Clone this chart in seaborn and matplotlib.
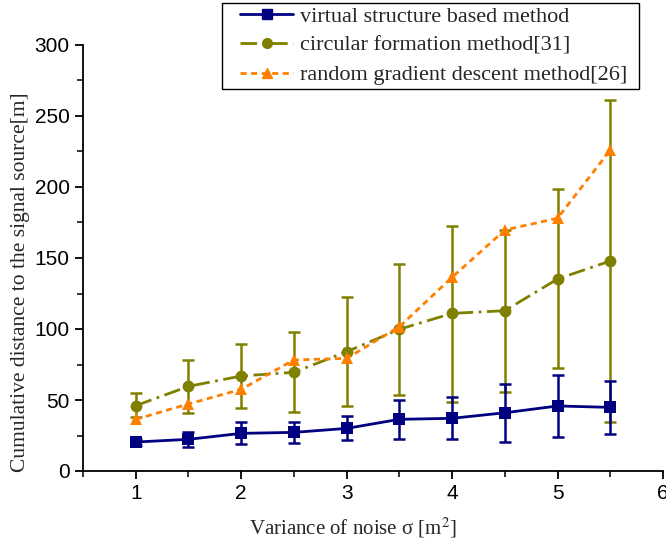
import numpy as np
import pandas as pd
import matplotlib
matplotlib.use("Agg")
import matplotlib.pyplot as plt
import seaborn as sns
from matplotlib.ticker import MultipleLocator
from matplotlib.lines import Line2D
from matplotlib.patches import Rectangle

x_vals = [1, 1.5, 2, 2.5, 3, 3.5, 4, 4.5, 5, 5.5]

vs_mean = [20.4, 22.3, 26.5, 27.2, 30.0, 36.4, 37.1, 41.0, 45.8, 44.8]
vs_low = [18.5, 17.1, 19.2, 20.0, 21.6, 22.8, 22.3, 20.7, 23.7, 26.0]
vs_high = [22.5, 27.2, 34.3, 34.7, 38.7, 50.0, 52.3, 61.3, 67.6, 63.6]

cf_mean = [46.0, 59.6, 66.9, 69.5, 84.0, 99.8, 111.0, 112.9, 135.2, 147.9]
cf_low = [37.8, 40.6, 44.1, 41.3, 45.8, 53.5, 48.8, 55.4, 72.3, 34.7]
cf_high = [54.7, 78.4, 89.7, 98.1, 122.3, 145.8, 172.8, 170.0, 198.6, 261.3]

rg_mean = [36.4, 47.2, 57.5, 78.2, 79.3, 101.6, 136.4, 169.7, 178.0, 226.0]

labels = ["virtual structure based method",
          "circular formation method[31]",
          "random gradient descent method[26]"]
colors = ["#000080", "#808000", "#FF8000"]

sns.set_theme(style="ticks")
plt.rcParams["font.family"] = ["Liberation Sans", "DejaVu Sans"]
plt.rcParams["mathtext.fontset"] = "stix"

fig = plt.figure(figsize=(6.66, 5.48), dpi=100)
ax = fig.add_axes([83/666, 1-471/548, 580/666, 426/548])

df = pd.DataFrame({
    "x": x_vals * 3,
    "y": vs_mean + cf_mean + rg_mean,
    "method": [labels[0]] * 10 + [labels[1]] * 10 + [labels[2]] * 10,
})

cf_m = np.array(cf_mean)
ax.errorbar(x_vals, cf_mean, yerr=[cf_m - np.array(cf_low), np.array(cf_high) - cf_m],
            fmt="none", ecolor=colors[1], elinewidth=1.8, capsize=4.3, capthick=1.8, zorder=2)
vs_m = np.array(vs_mean)
ax.errorbar(x_vals, vs_mean, yerr=[vs_m - np.array(vs_low), np.array(vs_high) - vs_m],
            fmt="none", ecolor=colors[0], elinewidth=1.8, capsize=4.3, capthick=1.8, zorder=2)

sns.lineplot(data=df, x="x", y="y", hue="method", style="method",
             palette=colors, markers=["s", "o", "^"],
             dashes=[(None, None), (6, 2, 1, 2), (2.2, 1.6)],
             markersize=8.5, markeredgewidth=0, linewidth=2, ax=ax,
             legend=False, zorder=3)

ax.set_xlim(0.5, 6)
ax.set_ylim(0, 300)
ax.xaxis.set_major_locator(MultipleLocator(1))
ax.xaxis.set_minor_locator(MultipleLocator(0.5))
ax.yaxis.set_major_locator(MultipleLocator(50))
ax.yaxis.set_minor_locator(MultipleLocator(25))
ax.tick_params(which="major", direction="out", length=6, width=1.3, labelsize=15, colors="black")
ax.tick_params(which="minor", direction="out", length=4, width=1.3)
for s in ["top", "right"]:
    ax.spines[s].set_visible(False)
for s in ["left", "bottom"]:
    ax.spines[s].set_linewidth(1.3)
    ax.spines[s].set_color("black")

serif = ["Liberation Serif", "DejaVu Serif"]
ax.set_xlabel("Variance of noise σ [m$^2$]", family=serif, fontsize=15)
ax.xaxis.set_label_coords((353 - 83) / 580, -0.105)
ax.set_ylabel("Cumulative distance to the signal source[m]", family=serif, fontsize=15.5)
ax.yaxis.set_label_coords(-0.092, (471 - 282) / 426)

handles = [
    Line2D([], [], color=colors[0], marker="s", markersize=7, linestyle="-", linewidth=2),
    Line2D([], [], color=colors[1], marker="o", markersize=7, linestyle=(0, (6, 2, 1, 2)), linewidth=2),
    Line2D([], [], color=colors[2], marker="^", markersize=7.5, linestyle=(0, (2.2, 1.6)), linewidth=2),
]
leg = fig.legend(handles, labels, loc="upper left", bbox_to_anchor=(240/666, 1 - 6/548),
                 bbox_transform=fig.transFigure,
                 prop={"family": serif, "size": 16}, frameon=False,
                 handlelength=2.4, borderpad=0, labelspacing=0.4, handletextpad=0.3,
                 borderaxespad=0)
fig.add_artist(Rectangle((222/666, 1 - 89/548), 417/666, 86/548, transform=fig.transFigure,
                         fill=False, edgecolor="black", linewidth=1.0))

fig.savefig("out.png", dpi=100)
